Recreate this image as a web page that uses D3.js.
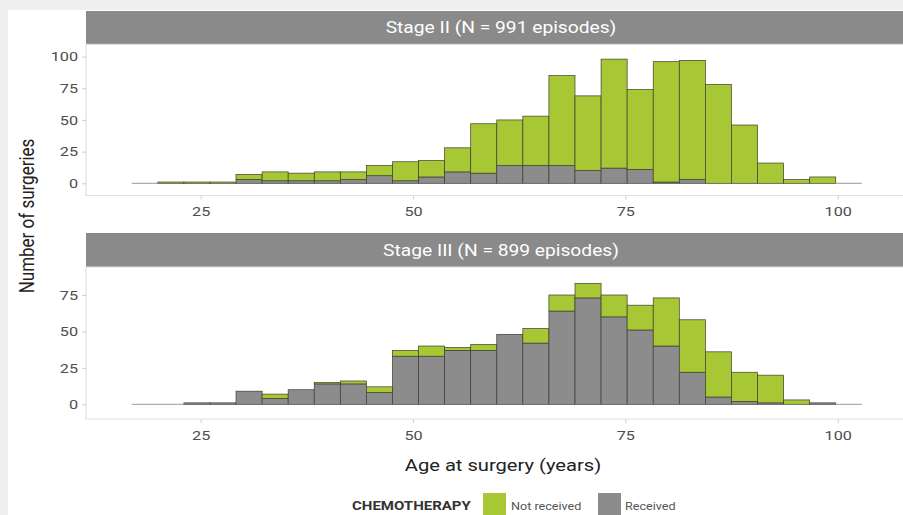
<!DOCTYPE html>
<html>
<head>
<meta charset="utf-8">
<script src="https://cdn.jsdelivr.net/npm/d3@7"></script>
<style>
  html, body { margin: 0; padding: 0; background: #efefef; }
  svg { display: block; font-family: Roboto, "Liberation Sans", Arial, sans-serif; }
</style>
</head>
<body>
<svg id="chart" width="903" height="515"></svg>
<script>
// Histogram bins: 28 bins of equal width on the age axis
const binStart = 16.88;
const binWidth = 3.07;
const binCount = 28;

// Stage II counts per bin
const stageIIReceived    = [0,0,0,0,3,2,2,2,3,6,2,5,9,8,14,14,14,10,12,11,1,3,0,0,0,0,0,0];
const stageIINotReceived = [0,1,1,1,4,7,6,7,6,8,15,13,19,39,36,39,71,59,86,63,95,94,78,46,16,3,5,0];

// Stage III counts per bin
const stageIIIReceived    = [0,0,1,1,9,4,10,14,14,8,33,33,37,37,48,42,64,73,60,51,40,22,5,2,1,0,1,0];
const stageIIINotReceived = [0,0,0,0,0,3,0,1,2,4,4,7,2,4,0,10,11,10,15,17,33,36,31,20,19,3,0,0];

const xTicks = [25, 50, 75, 100];
const stageIITicks = [0, 25, 50, 75, 100];
const stageIIITicks = [0, 25, 50, 75];

const panelTitles = ["Stage II (N = 991 episodes)", "Stage III (N = 899 episodes)"];
const legendTitle = "CHEMOTHERAPY";
const legendLabels = ["Not received", "Received"];

const colNot = "#a7c834";
const colRec = "#8c8c8c";
const outline = "#3d3d33";

// all horizontal text is drawn slightly widened
const widen = 1.2;
function stretch(sel) {
  sel.each(function () {
    const w = this.getComputedTextLength();
    d3.select(this).attr("textLength", w * widen).attr("lengthAdjust", "spacingAndGlyphs");
  });
}

const svg = d3.select("#chart");

// white card
svg.append("rect").attr("x", 8).attr("y", 10).attr("width", 903).attr("height", 520).attr("fill", "#ffffff");

const panelLeft = 86, panelRight = 916;
const x = d3.scaleLinear().domain([25, 100]).range([200.7, 837.7]);

const panels = [
  { title: panelTitles[0], stripTop: 11, top: 44.3, bottom: 195.5,
    y: d3.scaleLinear().domain([0, 100]).range([183.3, 56.6]), ticks: stageIITicks,
    rec: stageIIReceived, not: stageIINotReceived },
  { title: panelTitles[1], stripTop: 233, top: 267, bottom: 419,
    y: d3.scaleLinear().domain([0, 75]).range([404.3, 295]), ticks: stageIIITicks,
    rec: stageIIIReceived, not: stageIIINotReceived }
];

panels.forEach(p => {
  const g = svg.append("g");
  // strip
  g.append("rect").attr("x", panelLeft).attr("y", p.stripTop)
    .attr("width", panelRight - panelLeft).attr("height", p.top - p.stripTop).attr("fill", "#8a8a8a");
  g.append("text").attr("x", (panelLeft + panelRight) / 2).attr("y", (p.stripTop + p.top) / 2)
    .attr("dy", "0.35em").attr("text-anchor", "middle").attr("fill", "#ffffff")
    .attr("font-size", 16).text(p.title).call(stretch);
  // panel border
  g.append("rect").attr("x", panelLeft).attr("y", p.top)
    .attr("width", panelRight - panelLeft).attr("height", p.bottom - p.top)
    .attr("fill", "#ffffff").attr("stroke", "#dedede").attr("stroke-width", 1);

  const bins = d3.range(binCount).map(i => ({
    x0: binStart + i * binWidth, x1: binStart + (i + 1) * binWidth,
    rec: p.rec[i], not: p.not[i]
  }));

  const bars = g.append("g");
  bins.forEach(b => {
    const xa = x(b.x0), xb = x(b.x1);
    if (b.rec + b.not === 0) {
      bars.append("line").attr("x1", xa).attr("x2", xb)
        .attr("y1", p.y(0)).attr("y2", p.y(0))
        .attr("stroke", "#9a9a9a").attr("stroke-width", 1);
      return;
    }
    if (b.rec > 0) {
      bars.append("rect").attr("x", xa).attr("width", xb - xa)
        .attr("y", p.y(b.rec)).attr("height", p.y(0) - p.y(b.rec))
        .attr("fill", colRec).attr("stroke", outline).attr("stroke-width", 0.7);
    }
    if (b.not > 0) {
      bars.append("rect").attr("x", xa).attr("width", xb - xa)
        .attr("y", p.y(b.rec + b.not)).attr("height", p.y(b.rec) - p.y(b.rec + b.not))
        .attr("fill", colNot).attr("stroke", outline).attr("stroke-width", 0.7);
    }
  });

  // y axis
  const ya = g.append("g").attr("transform", `translate(${panelLeft},0)`)
    .call(d3.axisLeft(p.y).tickValues(p.ticks).tickSize(4).tickPadding(4));
  ya.select(".domain").remove();
  ya.selectAll(".tick line").attr("stroke", "#cfcfcf");
  ya.selectAll(".tick text").attr("fill", "#4d4d4d").attr("font-size", 13.5)
    .attr("font-family", "Roboto, 'Liberation Sans', Arial, sans-serif").call(stretch);

  // x axis
  const xa = g.append("g").attr("transform", `translate(0,${p.bottom})`)
    .call(d3.axisBottom(x).tickValues(xTicks).tickSize(4).tickPadding(7));
  xa.select(".domain").remove();
  xa.selectAll(".tick line").attr("stroke", "#cfcfcf");
  xa.selectAll(".tick text").attr("fill", "#4d4d4d").attr("font-size", 13.5)
    .attr("font-family", "Roboto, 'Liberation Sans', Arial, sans-serif").call(stretch);
});

// axis titles
svg.append("text").attr("transform", `translate(27,216) scale(${widen},1) rotate(-90)`)
  .attr("text-anchor", "middle").attr("dy", "0.35em")
  .attr("font-size", 17).attr("fill", "#222").text("Number of surgeries");
svg.append("text").attr("x", 503).attr("y", 465).attr("dy", "0.35em")
  .attr("text-anchor", "middle").attr("font-size", 16.8).attr("fill", "#222")
  .text("Age at surgery (years)").call(stretch);

// legend
const lg = svg.append("g");
lg.append("text").attr("x", 352).attr("y", 506).attr("dy", "0.35em")
  .attr("font-size", 12.5).attr("font-weight", "bold").attr("fill", "#333").text(legendTitle).call(stretch);
const legendItems = [
  { label: legendLabels[0], color: colNot, sx: 483, tx: 511 },
  { label: legendLabels[1], color: colRec, sx: 598, tx: 625 }
];
legendItems.forEach(it => {
  lg.append("rect").attr("x", it.sx).attr("y", 493).attr("width", 23).attr("height", 23).attr("fill", it.color);
  lg.append("text").attr("x", it.tx).attr("y", 506).attr("dy", "0.35em")
    .attr("font-size", 10.5).attr("fill", "#555").text(it.label).call(stretch);
});
</script>
</body>
</html>
